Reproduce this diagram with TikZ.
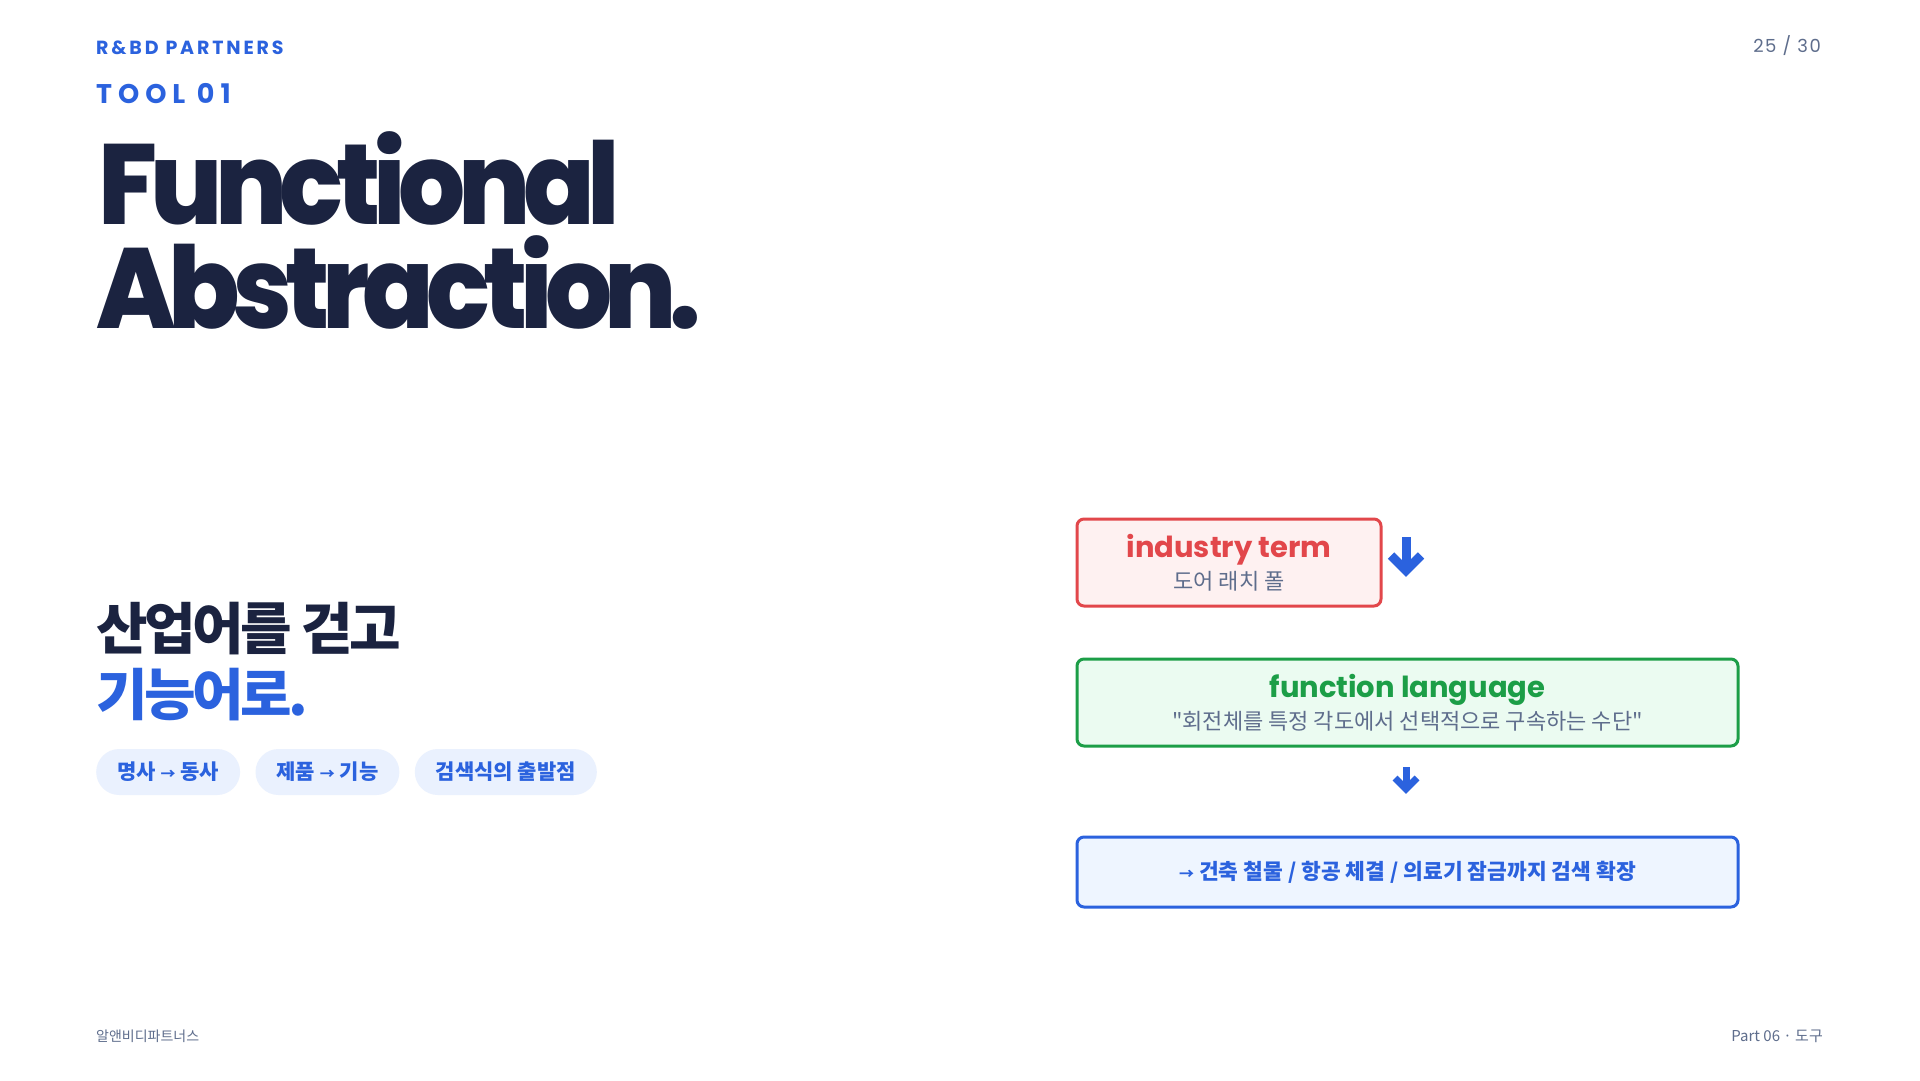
\documentclass[tikz,border=0pt]{standalone}
\usepackage{fontspec}
\setmainfont{Poppins}
\newfontfamily\heavy{Poppins ExtraBold}
\newfontfamily\kr{Noto Sans CJK KR}
\usetikzlibrary{positioning,calc}

\definecolor{navy}{HTML}{1B2340}
\definecolor{brand}{HTML}{2B62DE}
\definecolor{slate}{HTML}{5E6D8C}
\definecolor{pillbg}{HTML}{EAF1FE}
\definecolor{termred}{HTML}{E2474B}
\definecolor{termbg}{HTML}{FEF1F1}
\definecolor{fngreen}{HTML}{1C9E47}
\definecolor{fnbg}{HTML}{EBFBF1}
\definecolor{scopebg}{HTML}{EEF5FF}

\newcommand\sarr{{\fontsize{15}{15}\selectfont →}}

\tikzset{
  txt/.style={inner sep=0pt},
  pill/.style={fill=pillbg, rounded corners=23pt, minimum height=46pt, inner xsep=21pt,
    text=brand, font=\kr\bfseries\fontsize{21}{21}\selectfont},
  stage/.style 2 args={draw=#1, fill=#2, line width=3pt, rounded corners=7pt, align=center,
    font=\fontsize{29}{32}\selectfont},
  headfont/.style={font=\heavy\fontsize{114}{104}\selectfont\addfontfeatures{LetterSpace=-7}},
  flow/.style={draw=brand, line width=#1, line join=miter},
}

\begin{document}
\begin{tikzpicture}[x=1pt, y=-1pt]
\fill[white] (0,0) rectangle (1920,1080);
\useasboundingbox (0,0) rectangle (1920,1080);

% header
\node[txt, anchor=base west, text=brand, font=\bfseries\fontsize{19}{19}\selectfont\addfontfeatures{LetterSpace=15}] (firm) at (96,54) {R\&BD PARTNERS};
\node[txt, anchor=base west, text=brand, font=\bfseries\fontsize{27}{27}\selectfont\addfontfeatures{LetterSpace=22}] (tool) at (96,103) {TOOL 01};
\node[txt, anchor=base east, text=slate, font=\fontsize{18}{18}\selectfont\addfontfeatures{LetterSpace=8}] (page) at (1821,52) {25 / 30};

% title
\node[txt, anchor=base west, text=navy, headfont] (title1) at (98,224) {\scalebox{0.925}[1]{Functional}};
\node[txt, anchor=base west, text=navy, headfont] (title2) at (96,328) {\scalebox{0.925}[1]{Abstraction.}};

% lead and tags
\node[txt, anchor=base west, text=navy, font=\kr\bfseries\fontsize{56}{60}\selectfont\addfontfeatures{LetterSpace=-6}] (lead1) at (96,649) {산업어를 걷고};
\node[txt, anchor=base west, text=brand, font=\kr\bfseries\fontsize{56}{60}\selectfont\addfontfeatures{LetterSpace=-6}] (lead2) at (96,715) {기능어로.};
\node[pill, anchor=west] (p1) at (96,772) {명사 \sarr{} 동사};
\node[pill, right=15pt of p1] (p2) {제품 \sarr{} 기능};
\node[pill, right=15pt of p2] (p3) {검색식의 출발점};

% flow
\node[stage={termred}{termbg}, minimum width=304pt, minimum height=87pt, anchor=north west] (term) at (1075.5,517.5)
  {{\bfseries\color{termred}industry term}\\
   {\kr\fontsize{22}{24}\selectfont\color{slate}도어 래치 폴}};
\node[stage={fngreen}{fnbg}, minimum width=661pt, minimum height=87pt, anchor=north west] (func) at (1075.5,657.5)
  {{\bfseries\color{fngreen}function language}\\
   {\kr\fontsize{22}{24}\selectfont\color{slate}"회전체를 특정 각도에서 선택적으로 구속하는 수단"}};
\node[stage={brand}{scopebg}, minimum width=661pt, minimum height=70pt, anchor=north west,
  text=brand, font=\kr\bfseries\fontsize{21.5}{24}\selectfont] (scope) at (1075.5,835.5)
  {\sarr{} 건축 철물 / 항공 체결 / 의료기 잠금까지 검색 확장};

\coordinate (d1top) at (1406,537);
\coordinate (d1tip) at (1406,570.5);
\draw[flow=9pt] (d1top) -- (d1tip);
\draw[flow=9pt] ($(d1tip)+(-15,-15)$) -- (d1tip) -- ($(d1tip)+(15,-15)$);
\coordinate (d2top) at (1406,767);
\coordinate (d2tip) at (1406,789);
\draw[flow=7pt] (d2top) -- (d2tip);
\draw[flow=7pt] ($(d2tip)+(-11,-11)$) -- (d2tip) -- ($(d2tip)+(11,-11)$);

% footer
\node[txt, anchor=base west, text=slate, font=\kr\fontsize{14}{14}\selectfont] (corp) at (96,1041) {알앤비디파트너스};
\node[txt, anchor=base east, text=slate, font=\kr\fontsize{15}{15}\selectfont] (part) at (1823,1041) {Part 06 · 도구};
\end{tikzpicture}
\end{document}
